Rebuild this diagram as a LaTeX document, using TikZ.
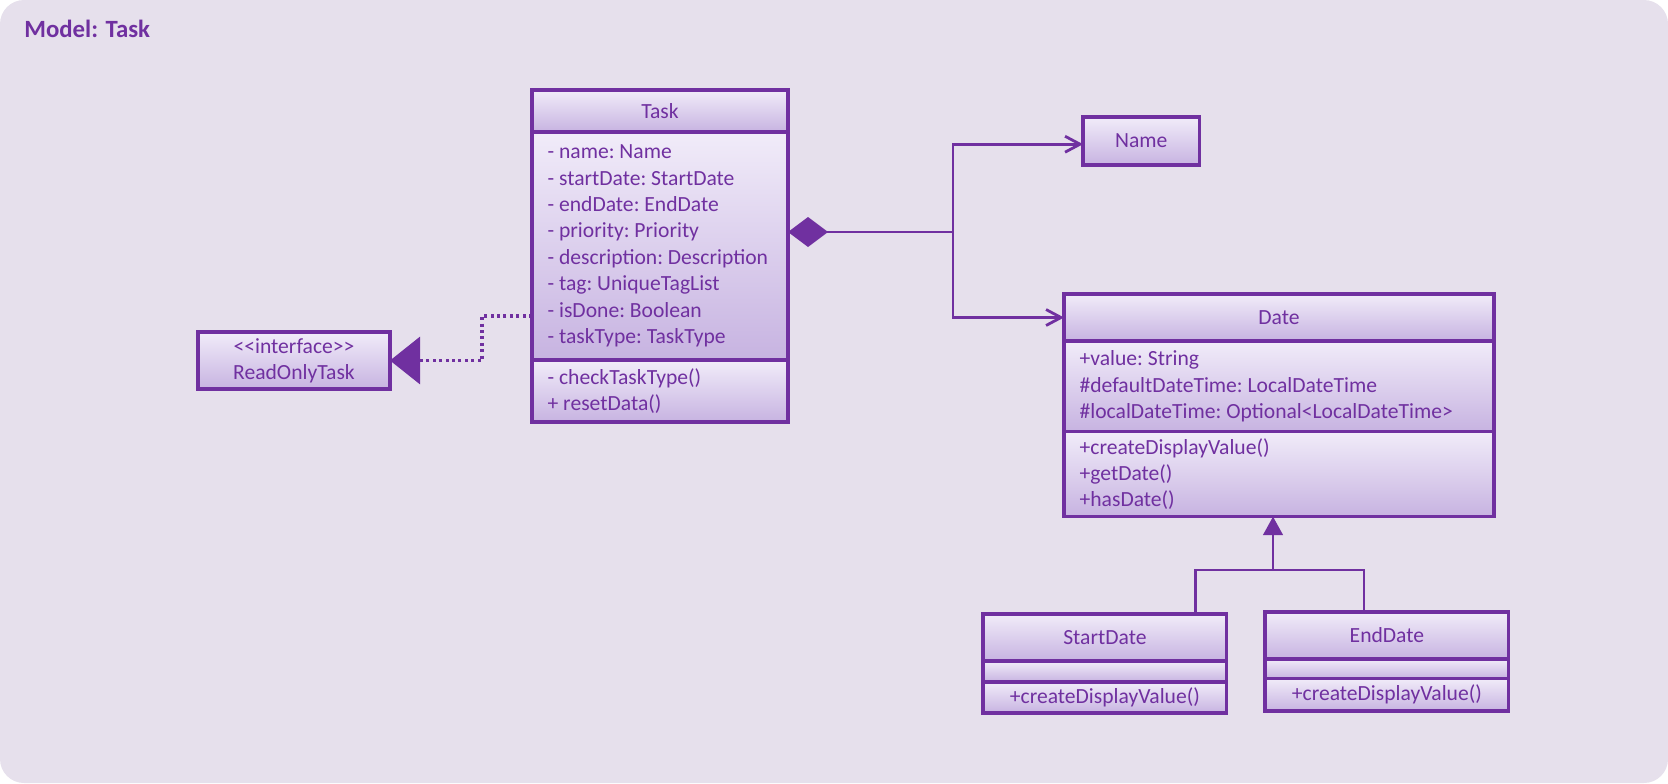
\documentclass[tikz,border=0pt]{standalone}
\usepackage{fontspec}
\setmainfont{Carlito}
\usetikzlibrary{positioning,arrows.meta}
\definecolor{umlpurple}{HTML}{7030A0}
\definecolor{umlback}{HTML}{E6E0EC}
\definecolor{umltop}{HTML}{F1ECF9}
\definecolor{umlbottom}{HTML}{C7B3E1}
\newcommand{\umlfont}{\fontsize{10.8pt}{13.2pt}\selectfont\frenchspacing}
\tikzset{
  umlbox/.style={draw=umlpurple, line width=1.6pt, top color=umltop, bottom color=umlbottom,
    text=umlpurple, font=\umlfont, inner ysep=0pt, outer sep=0pt, align=center},
  umlhead/.style={umlbox, anchor=north west},
  umlpart/.style={umlbox, inner xsep=7.8pt, align=flush left},
  umlline/.style={draw=umlpurple, line width=1.4pt},
  assoc/.style={umlline, -{Straight Barb[length=7.5pt,width=8pt]}},
  composition/.style={umlline, {Diamond[length=20pt,width=15pt]}-},
  realize/.style={umlline, line width=1.6pt, dash pattern=on 1.5pt off 1.7pt, -{Triangle[length=15pt,width=23.5pt]}},
  inherit/.style={umlline, -{Triangle[length=9.2pt,width=9.7pt]}}
}
\begin{document}
\begin{tikzpicture}[x=0.5pt,y=-0.5pt]
    \fill[umlback, rounded corners=12pt] (0,0) rectangle (1668,783);% background
    \node[anchor=west, inner sep=0pt, text=umlpurple, font=\bfseries\fontsize{12.4pt}{15pt}\selectfont] (title) at (24,29) {Model: Task};
    % Task
    \node[umlhead, minimum width=128pt, minimum height=21pt] (taskhead) at (532,90) {Task};
    \node[umlpart, below=0pt of taskhead, text width=112.4pt, minimum height=114pt] (taskattr)
      {- name: Name\\- startDate: StartDate\\- endDate: EndDate\\- priority: Priority\\- description: Description\\- tag: UniqueTagList\\- isDone: Boolean\\- taskType: TaskType};
    \node[umlpart, below=0pt of taskattr, text width=112.4pt, minimum height=31pt] (taskmeth)
      {- checkTaskType()\\+ resetData()};
    % interface
    \node[umlhead, minimum width=96pt, minimum height=28.5pt] (readonly) at (198,332)
      {\mbox{<}\mbox{<}interface\mbox{>}\mbox{>}\\ReadOnlyTask};
    % Name
    \node[umlhead, minimum width=58.3pt, minimum height=24pt] (name) at (1083,117) {Name};
    % Date
    \node[umlhead, minimum width=215pt, minimum height=23.5pt] (datehead) at (1064,294) {Date};
    \node[umlpart, below=0pt of datehead, text width=199.4pt, minimum height=45.3pt] (dateattr)
      {+value: String\\\#defaultDateTime: LocalDateTime\\\#localDateTime: Optional<LocalDateTime>};
    \node[umlpart, below=0pt of dateattr, text width=199.4pt, minimum height=42.5pt] (datemeth)
      {+createDisplayValue()\\+getDate()\\+hasDate()};
    % StartDate
    \node[umlhead, minimum width=121.9pt, minimum height=23.5pt] (starthead) at (983,614) {StartDate};
    \node[umlbox, below=0pt of starthead, minimum width=121.9pt, minimum height=10.5pt] (startattr) {};
    \node[umlbox, below=0pt of startattr, minimum width=121.9pt, minimum height=15.5pt] (startmeth) {+createDisplayValue()};
    % EndDate
    \node[umlhead, minimum width=121.9pt, minimum height=23.5pt] (endhead) at (1265,612) {EndDate};
    \node[umlbox, below=0pt of endhead, minimum width=121.9pt, minimum height=9.7pt] (endattr) {};
    \node[umlbox, below=0pt of endattr, minimum width=121.9pt, minimum height=16.3pt] (endmeth) {+createDisplayValue()};
    % connectors
    \coordinate (fork) at ([xshift=82.5pt,yshift=7pt]taskattr.east);
    \draw[composition] (fork -| taskattr.east) -- (fork);% whole-part
    \draw[assoc] (fork) |- ([yshift=-1.6pt]name.west);
    \draw[assoc] (fork) |- (datehead.west);
    \draw[realize] ([yshift=-35pt]taskattr.west) -- ++(-25pt,0) |- (readonly.east);% implements
    \coordinate (gen) at (1273,570);
    \draw[inherit] (gen) -- (gen |- datemeth.south);% extends
    \draw[umlline] ([xshift=45.3pt]starthead.north) |- (gen) -| ([xshift=-11.5pt]endhead.north);
\end{tikzpicture}
\end{document}
